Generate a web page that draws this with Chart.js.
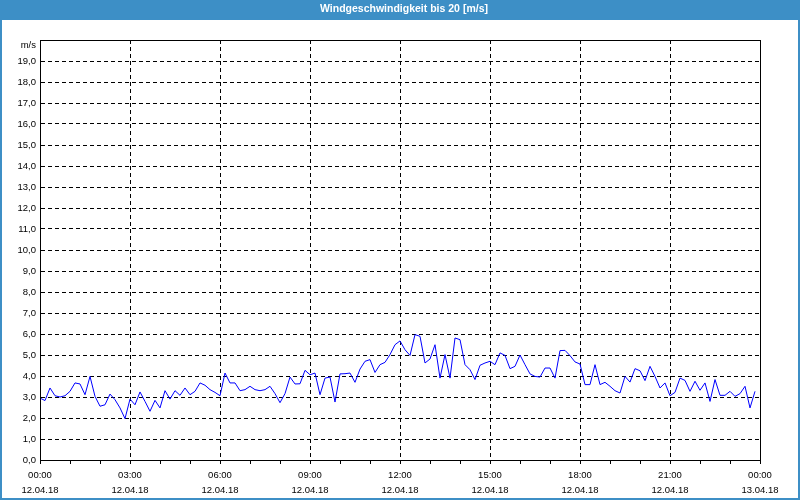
<!DOCTYPE html>
<html>
<head>
<meta charset="utf-8">
<script src="https://cdn.jsdelivr.net/npm/chart.js@4/dist/chart.umd.min.js"></script>
<style>
  html, body { margin: 0; padding: 0; background: #ffffff; }
  #wrap { width: 800px; height: 500px; position: relative; }
</style>
</head>
<body>
<div id="wrap"><canvas id="c" width="800" height="500"></canvas></div>
<script>
// ---- data ----
const chartTitle = 'Windgeschwindigkeit bis 20 [m/s]';
const unitLabel = 'm/s';
const startDate = '12.04.18';
const endDate = '13.04.18';
const intervalMinutes = 10;           // one reading every 10 minutes, from 00:00
const xTickHours = ['00:00', '03:00', '06:00', '09:00', '12:00', '15:00', '18:00', '21:00', '00:00'];
const windSpeed = [
  2.95, 2.83, 3.43, 3.06, 3.00, 3.06, 3.27, 3.67, 3.62, 3.11, 3.98, 3.03,
  2.56, 2.63, 3.14, 2.87, 2.48, 1.97, 2.90, 2.63, 3.24, 2.79, 2.32, 2.84,
  2.48, 3.30, 2.90, 3.30, 3.08, 3.43, 3.11, 3.27, 3.67, 3.56, 3.35, 3.22,
  3.06, 4.14, 3.67, 3.67, 3.30, 3.35, 3.51, 3.35, 3.30, 3.35, 3.51, 3.16,
  2.73, 3.16, 3.95, 3.62, 3.63, 4.27, 4.06, 4.14, 3.11, 3.90, 3.95, 2.76,
  4.10, 4.11, 4.14, 3.70, 4.33, 4.70, 4.78, 4.17, 4.54, 4.65, 5.02, 5.49,
  5.67, 5.25, 4.98, 5.97, 5.89, 4.62, 4.81, 5.49, 3.90, 5.02, 3.90, 5.81,
  5.73, 4.54, 4.30, 3.83, 4.51, 4.62, 4.70, 4.54, 5.10, 4.98, 4.35, 4.46,
  5.00, 4.54, 4.10, 3.98, 3.95, 4.38, 4.38, 3.90, 5.21, 5.22, 4.97, 4.67,
  4.57, 3.59, 3.59, 4.54, 3.59, 3.70, 3.51, 3.30, 3.19, 3.98, 3.71, 4.35,
  4.25, 3.78, 4.46, 3.98, 3.43, 3.67, 3.06, 3.22, 3.90, 3.79, 3.27, 3.75,
  3.32, 3.67, 2.79, 3.83, 3.08, 3.08, 3.27, 3.03, 3.16, 3.51, 2.48, 3.27
];

const points = windSpeed.map((v, i) => ({ x: i * intervalMinutes, y: v }));

const FONT = "'Liberation Sans', Arial, sans-serif";

const framePlugin = {
  id: 'frame',
  beforeDraw(chart) {
    const ctx = chart.ctx;
    ctx.save();
    ctx.fillStyle = '#ffffff';
    ctx.fillRect(0, 0, 800, 500);
    ctx.fillStyle = '#3d8fc6';
    ctx.fillRect(0, 0, 800, 20);
    ctx.fillRect(0, 0, 2, 500);
    ctx.fillRect(798, 0, 2, 500);
    ctx.fillRect(0, 498, 800, 2);
    ctx.restore();
  },
  afterDraw(chart) {
    const ctx = chart.ctx;
    const a = chart.chartArea;
    ctx.save();
    ctx.strokeStyle = '#000000';
    ctx.lineWidth = 1;
    ctx.setLineDash([]);
    ctx.strokeRect(Math.round(a.left) + 0.5, Math.round(a.top) + 0.5,
                   Math.round(a.right - a.left), Math.round(a.bottom - a.top));
    ctx.fillStyle = '#000000';
    ctx.font = '9.5px ' + FONT;
    ctx.textAlign = 'right';
    ctx.textBaseline = 'middle';
    ctx.fillText(unitLabel, Math.round(a.left) - 4, Math.round(a.top) + 5);
    ctx.restore();
  }
};

new Chart(document.getElementById('c'), {
  type: 'line',
  data: {
    datasets: [{
      data: points,
      borderColor: '#0000ff',
      borderWidth: 1,
      pointRadius: 0,
      tension: 0,
      fill: false
    }]
  },
  options: {
    responsive: false,
    animation: false,
    layout: { padding: { left: 8, right: 0, top: 0, bottom: 0 } },
    plugins: {
      legend: { display: false },
      tooltip: { enabled: false },
      title: {
        display: true,
        text: chartTitle,
        color: '#ffffff',
        font: { family: FONT, size: 10.5, weight: 'bold', lineHeight: '11px' },
        padding: { top: 4, bottom: 25 }
      }
    },
    scales: {
      x: {
        type: 'linear',
        min: 0,
        max: 1440,
        afterFit(scale) { scale.height = 40; },
        afterBuildTicks(scale) {
          const t = [];
          for (let m = 0; m <= 1440; m += 60) t.push({ value: m });
          scale.ticks = t;
        },
        ticks: {
          autoSkip: false,
          maxRotation: 0,
          color: '#000000',
          padding: 4,
          font: { family: FONT, size: 9.5, lineHeight: '15px' },
          callback(value) {
            if (value % 180 !== 0) return '';
            const h = xTickHours[value / 180];
            return [h, value === 1440 ? endDate : startDate];
          }
        },
        grid: {
          color: (c) => (c.tick && c.tick.value % 180 === 0) ? '#000000' : 'rgba(0,0,0,0)',
          tickColor: '#000000',
          tickLength: 4,
          drawTicks: true,
          lineWidth: 1
        },
        border: { display: true, color: '#000000', dash: [4, 3] }
      },
      y: {
        min: 0,
        max: 20,
        afterFit(scale) { scale.width = 32; },
        ticks: {
          stepSize: 1,
          color: '#000000',
          padding: 4,
          font: { family: FONT, size: 9.5 },
          callback(value) {
            if (value >= 20) return '';
            return value.toFixed(1).replace('.', ',');
          }
        },
        grid: {
          color: '#000000',
          drawTicks: false,
          lineWidth: 1
        },
        border: { display: true, color: '#000000', dash: [4, 3] }
      },
      yRight: {
        position: 'right',
        min: 0,
        max: 20,
        afterFit(scale) { scale.width = 40; },
        ticks: { display: false },
        grid: { display: false, drawOnChartArea: false, drawTicks: false },
        border: { display: false }
      }
    }
  },
  plugins: [framePlugin]
});
</script>
</body>
</html>
